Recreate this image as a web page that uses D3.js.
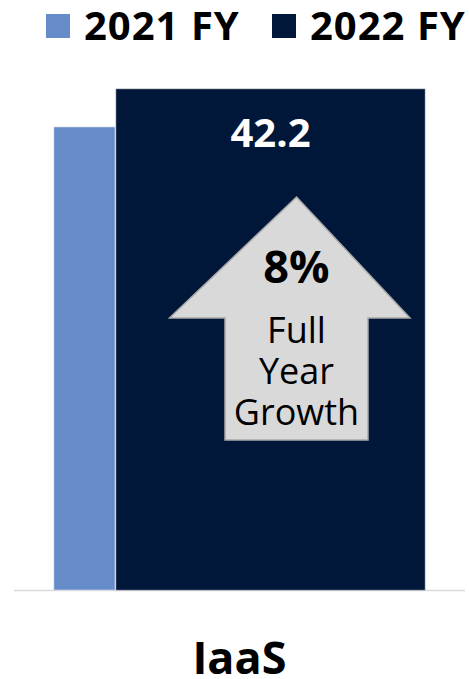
<!DOCTYPE html>
<html>
<head>
<meta charset="utf-8">
<script src="https://cdn.jsdelivr.net/npm/d3@7"></script>
<style>
  html, body { margin: 0; padding: 0; background: #fff; }
  svg { display: block; font-family: "Open Sans", "Noto Sans", sans-serif; }
</style>
</head>
<body>
<svg id="chart" width="469" height="679"></svg>
<script>
// Revenue by segment, full fiscal year
const categories = ["IaaS"];
const seriesNames = ["2021 FY", "2022 FY"];
const values2021 = [39.0];
const values2022 = [42.2];
const growthLabel = "8%";
const growthText = ["Full", "Year", "Growth"];

const colors = ["#658bc8", "#00173a"];

const svg = d3.select("#chart");
const plot = { left: 14, right: 465, top: 89, bottom: 590 };

const x = d3.scaleBand().domain(categories).range([plot.left, plot.right]).padding(0);
const y = d3.scaleLinear().domain([0, 42.2]).range([plot.bottom, plot.top]);

// bar slots within the category band (fractions of band width)
const slots = [[0.0885, 0.2239], [0.2262, 0.9113]];

const series = [values2021, values2022];

// axis baseline
svg.append("line")
  .attr("x1", plot.left).attr("x2", plot.right)
  .attr("y1", plot.bottom + 0.5).attr("y2", plot.bottom + 0.5)
  .attr("stroke", "#d9d9d9").attr("stroke-width", 1.5);

series.forEach((vals, si) => {
  svg.append("g").selectAll("rect")
    .data(categories.map((c, i) => ({ c, v: vals[i] })))
    .join("rect")
    .attr("x", d => x(d.c) + slots[si][0] * x.bandwidth())
    .attr("width", d => (slots[si][1] - slots[si][0]) * x.bandwidth())
    .attr("y", d => y(d.v))
    .attr("height", d => y(0) - y(d.v))
    .attr("fill", colors[si])
    .attr("stroke", si === 0 ? "#d6dcea" : "#6f7a8c")
    .attr("stroke-width", 0.6);
});

// value label for 2022 bar
svg.append("g").selectAll("text")
  .data(categories.map((c, i) => ({ c, v: values2022[i] })))
  .join("text")
  .attr("x", d => x(d.c) + (slots[1][0] + slots[1][1]) / 2 * x.bandwidth())
  .attr("y", d => y(d.v) + 58)
  .attr("text-anchor", "middle")
  .attr("font-size", 40).attr("font-weight", 700)
  .attr("fill", "#ffffff")
  .text(d => d.v.toFixed(1));

// growth arrow callout
const ax = 296.5;
const arrow = [
  [ax, 197], [ax + 113.5, 318], [ax + 71.5, 318], [ax + 71.5, 440],
  [ax - 71.5, 440], [ax - 71.5, 318], [ax - 127, 318]
];
svg.append("path")
  .attr("d", d3.line()(arrow) + "Z")
  .attr("fill", "#d9d9d9")
  .attr("stroke", "#a8a8a8")
  .attr("stroke-width", 1.5)
  .attr("stroke-linejoin", "miter");

svg.append("text")
  .attr("x", ax).attr("y", 283)
  .attr("text-anchor", "middle")
  .attr("font-size", 45).attr("font-weight", 700)
  .attr("fill", "#000")
  .text(growthLabel);

svg.append("g").selectAll("text")
  .data(growthText)
  .join("text")
  .attr("x", ax)
  .attr("y", (d, i) => 343 + i * 41)
  .attr("text-anchor", "middle")
  .attr("font-size", 36).attr("font-weight", 400)
  .attr("fill", "#000")
  .text(d => d);

// category label
svg.append("g").selectAll("text")
  .data(categories)
  .join("text")
  .attr("x", d => x(d) + x.bandwidth() / 2)
  .attr("y", 674)
  .attr("text-anchor", "middle")
  .attr("font-size", 45).attr("font-weight", 700)
  .attr("fill", "#000")
  .text(d => d);

// legend
const legendPos = [46, 272];
const lg = svg.append("g").selectAll("g")
  .data(seriesNames)
  .join("g")
  .attr("transform", (d, i) => `translate(${legendPos[i]},14)`);
lg.append("rect")
  .attr("width", 24).attr("height", 24)
  .attr("fill", (d, i) => colors[i]);
lg.append("text")
  .attr("x", 38).attr("y", 25.5)
  .attr("font-size", 40).attr("font-weight", 700)
  .attr("letter-spacing", 1)
  .attr("fill", "#000")
  .text(d => d);
</script>
</body>
</html>
